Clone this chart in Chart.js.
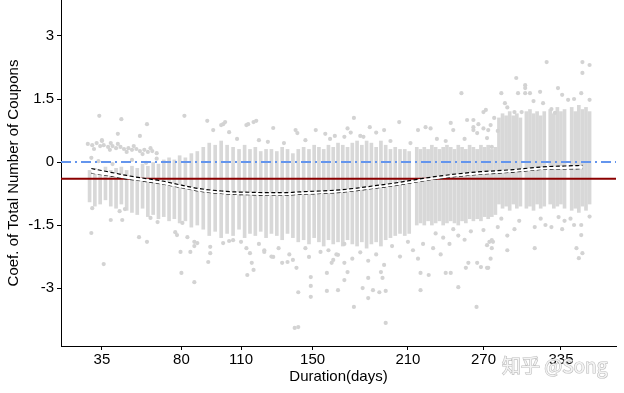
<!DOCTYPE html>
<html>
<head>
<meta charset="utf-8">
<script src="https://cdn.jsdelivr.net/npm/chart.js@4.4.1/dist/chart.umd.min.js"></script>
<style>
  html, body { margin: 0; padding: 0; background: #fff; }
  #wrap { width: 624px; height: 393px; }
</style>
</head>
<body>
<div id="wrap"><canvas id="coefChart" width="624" height="393"></canvas></div>
<script>
// Duration axis is discrete (only observed days get a slot), so ticks are not evenly spaced
const tickDays = [35, 80, 110, 150, 210, 270, 335];
const tickSlots = [0, 40, 70, 106, 154, 192, 231];
const yTicks = [-3, -1.5, 0, 1.5, 3];

const zeroLevel = 0;
const meanCoef = -0.4;

// dense part of each day column: [day, low, high]
const coreEarly = [
    [28, -0.95, -0.2], [31, -1.05, -0.15], [34, -1.0, -0.2], [37, -0.9, -0.12], [40, -1.05, -0.2],
    [43, -1.1, -0.15], [46, -1.0, -0.12], [49, -1.15, -0.2], [52, -1.2, -0.1], [55, -1.25, -0.15],
    [58, -1.1, -0.05], [61, -1.3, -0.1], [64, -1.25, 0.0], [67, -1.35, -0.05], [70, -1.3, 0.05],
    [73, -1.4, 0.1], [76, -1.35, 0.05], [79, -1.45, 0.15], [82, -1.4, 0.1], [85, -1.55, 0.2], [88, -1.5, 0.25]
];
const coreMid = [
    [91, -1.6, 0.35], [94, -1.75, 0.45], [97, -1.65, 0.4], [100, -1.8, 0.5], [103, -1.7, 0.4],
    [106, -1.75, 0.35], [109, -1.6, 0.3], [112, -1.8, 0.4], [115, -1.7, 0.3], [118, -1.75, 0.35],
    [121, -1.65, 0.25], [124, -1.8, 0.3], [127, -1.7, 0.3], [130, -1.75, 0.25], [133, -1.85, 0.35],
    [136, -1.7, 0.3], [139, -1.8, 0.2], [142, -1.9, 0.3], [145, -1.85, 0.35], [148, -1.95, 0.3],
    [151, -1.8, 0.4], [154, -1.9, 0.35], [157, -2.0, 0.3], [160, -1.85, 0.4], [163, -1.95, 0.35],
    [166, -1.9, 0.45], [169, -2.0, 0.4], [172, -1.85, 0.35], [175, -1.95, 0.45], [178, -2.0, 0.5],
    [181, -1.9, 0.4], [184, -2.05, 0.5], [187, -1.95, 0.45], [190, -1.9, 0.35], [193, -2.0, 0.5],
    [196, -1.85, 0.4], [199, -1.8, 0.3], [202, -1.75, 0.35], [205, -1.7, 0.3], [208, -1.75, 0.3], [211, -1.7, 0.25]
];
const coreLate = [
    [217, -1.5, 0.35], [220, -1.45, 0.3], [223, -1.5, 0.35], [226, -1.4, 0.3], [229, -1.5, 0.4],
    [232, -1.45, 0.35], [235, -1.4, 0.3], [238, -1.5, 0.35], [241, -1.45, 0.4], [244, -1.4, 0.35],
    [247, -1.45, 0.3], [250, -1.5, 0.4], [253, -1.4, 0.35], [256, -1.45, 0.3], [259, -1.35, 0.4],
    [262, -1.4, 0.35], [265, -1.35, 0.3], [268, -1.4, 0.4], [271, -1.3, 0.35], [274, -1.35, 0.4],
    [277, -1.3, 0.3], [280, -1.25, 0.35]
];
const coreRight = [
    [283, -1.0, 1.05], [286, -1.1, 1.15], [289, -1.05, 1.1], [292, -1.15, 1.2], [295, -1.0, 1.1],
    [298, -1.1, 1.15], [301, -1.05, 1.05], [306, -1.1, 1.2], [309, -1.05, 1.25], [312, -1.15, 1.15],
    [315, -1.0, 1.2], [318, -1.1, 1.1], [321, -1.05, 1.2], [326, -1.0, 1.25], [329, -1.1, 1.15],
    [332, -1.05, 1.3], [335, -1.0, 1.2], [338, -1.1, 1.25], [344, -1.15, 1.3], [347, -1.1, 1.2],
    [350, -1.2, 1.35], [353, -1.05, 1.25], [356, -1.15, 1.3], [359, -1.0, 1.2]
];

// single observations outside the dense cores: [day, coef]
const streakPts = [
    [27, 0.43], [29.5, 0.40], [32, 0.45], [34, 0.38], [36, 0.40], [38.5, 0.36], [41, 0.38], [43, 0.33],
    [45.5, 0.36], [47.5, 0.31], [50, 0.33], [52, 0.29], [54.5, 0.31], [56.5, 0.26], [59, 0.29], [61, 0.24],
    [63.5, 0.26], [66, 0.21], [30.5, 0.31], [39.5, 0.29], [49, 0.24], [58, 0.19], [35, 0.50], [44, 0.43],
    [53, 0.38], [62.5, 0.33], [29, 0.1], [33, 0.02], [41, -0.05], [52, 0.05], [60, -0.02], [66, 0.08]
];
const upperPts = [
    [33.5, 1.1], [46, 1.02], [60.5, 0.9], [81.5, 1.1], [93, 0.98], [101, 0.9], [102, 0.95], [114, 0.9],
    [118.5, 0.98], [44, 0.67], [56.5, 0.62], [35, 0.52], [40, 0.45], [100, 0.88], [96, 0.76], [104, 0.71],
    [113, 0.88], [117, 0.95], [128, 0.81], [140.5, 0.76], [141.5, 0.69], [152, 0.76], [158, 0.67], [164, 0.62],
    [170, 0.6], [120, 0.52], [134, 0.45], [176, 1.05], [172, 0.8], [174, 0.7], [182, 0.6], [186, 0.83],
    [190, 0.7], [195, 0.76], [204.5, 0.95], [218, 0.76], [224, 0.83], [228, 0.8], [252.5, 1.64], [257, 1.0],
    [262, 0.83], [266, 0.9], [270, 0.8], [262, 0.76], [265, 0.69], [262, 1.0], [246, 0.76], [244, 0.93],
    [274, 0.76], [270, 1.19], [108, 0.55], [125, 0.48], [146, 0.52], [161, 0.55], [180, 0.62], [199, 0.5],
    [212, 0.45], [233, 0.55], [240, 0.5], [255, 0.55]
];
const rightUpperPts = [
    [323, 2.38], [353, 2.38], [359, 2.31], [353, 2.12], [297.5, 2.0], [305, 1.83], [305, 1.76], [299, 1.64],
    [305, 1.64], [309, 1.64], [285, 1.64], [317.5, 1.67], [332.5, 1.76], [336, 1.6], [341, 1.48], [352, 1.64],
    [359, 1.48], [320, 1.4], [327, 1.26], [330, 1.17], [272, 1.24], [279, 1.05], [276, 0.88], [282, 0.74],
    [273, 0.57], [277, 0.36], [296, 1.19], [302, 1.19], [288, 1.4], [312, 1.45], [346, 1.5], [290, 1.3]
];
const lowerPts = [
    [29, -1.69], [29.5, -1.1], [36, -2.43], [56, -1.79], [60.5, -1.9], [40, -1.38], [46.5, -1.38], [45, -1.17],
    [48, -1.12], [62.5, -1.33], [66.5, -1.43], [76.5, -1.67], [77.5, -1.74], [80.5, -1.45], [79.5, -2.14],
    [84.5, -2.14], [80, -2.64], [86.5, -2.86], [88, -1.93], [83, -1.79], [86.5, -1.9], [86.5, -2.0],
    [93.5, -2.38], [94.5, -2.17], [94.5, -2.02], [101, -1.93], [104, -1.88], [106, -1.86],
    [113.5, -2.69], [117, -2.57], [116, -2.4], [113, -2.05], [115, -2.17], [123, -2.14], [128, -2.26],
    [133, -2.4], [136, -2.38], [139, -2.33], [141, -2.52], [142, -3.1], [140, -3.95], [142, -3.93],
    [149, -2.74], [149, -3.21], [149, -2.95], [159, -2.64], [159, -3.07], [166, -3.05], [163, -2.33],
    [166, -2.21], [170, -2.81], [176, -3.45], [181.5, -3.0], [185, -3.24], [188, -3.05], [192, -3.1],
    [196, -3.07], [196, -3.83], [185, -2.76], [193, -2.62], [194, -2.76], [172, -2.62], [170, -2.4],
    [220, -2.64], [220, -3.05], [226.5, -2.69], [240, -2.64], [244, -2.64], [250, -2.98], [256, -2.52],
    [258, -2.4], [264.5, -3.45], [265, -2.4], [268, -2.5], [274, -2.52], [290, -2.1], [313, -2.05],
    [160, -2.1], [165, -2.2], [170, -1.95], [175, -2.3], [180, -2.15], [185, -2.35], [190, -2.2],
    [195, -2.45], [200, -2.0], [205, -2.25], [210, -1.9], [214, -2.1], [218, -2.3], [222, -1.95],
    [230, -2.05], [236, -2.2], [243, -1.95], [123, -2.1], [127, -2.25], [131, -2.05], [137, -2.2],
    [148, -2.26], [155, -2.14], [162, -2.4], [146, -2.05], [120, -1.95], [110, -1.9], [250, -1.75],
    [255, -1.85], [260, -1.65], [246, -1.6], [232, -1.7], [238, -1.8]
];
const rightLowerPts = [
    [270, -1.62], [273, -2.52], [275, -1.9], [277, -2.05], [276, -2.3], [273, -1.98], [277, -1.86],
    [278, -1.9], [282, -1.55], [290, -1.75], [296, -1.6], [313, -1.55], [333, -1.31], [338, -1.4],
    [343, -1.35], [346, -1.5], [352, -1.5], [348, -2.05], [350, -2.29], [352, -1.74], [353, -2.17],
    [322, -1.5], [327, -1.55], [336, -1.6], [300, -1.4], [318, -1.35], [285, -1.35], [359, -1.3]
];

// smoothed trend with its band
const curveDays  = [29, 40, 49, 60, 68, 80, 90, 100, 106, 115, 125, 135, 143, 155, 168, 178, 188, 200, 210, 222, 236, 250, 268, 280, 295, 310, 323, 338, 353];
const curveUpper = [-0.155, -0.245, -0.32, -0.395, -0.445, -0.55, -0.64, -0.69, -0.71, -0.72, -0.73, -0.73, -0.71, -0.69, -0.66, -0.62, -0.57, -0.51, -0.45, -0.39, -0.33, -0.28, -0.23, -0.21, -0.18, -0.14, -0.11, -0.095, -0.08];
const curveLower = [-0.265, -0.335, -0.40, -0.465, -0.515, -0.61, -0.70, -0.75, -0.77, -0.78, -0.79, -0.79, -0.77, -0.75, -0.72, -0.68, -0.63, -0.57, -0.51, -0.45, -0.39, -0.34, -0.29, -0.27, -0.24, -0.20, -0.17, -0.165, -0.16];

const xMin = -20.6, xMax = 258.7;
const yMin = -4.38, yMax = 3.857;

function dayToSlot(d) {
    let i = 0;
    while (i < tickDays.length - 2 && d > tickDays[i + 1]) i++;
    const slope = (tickSlots[i + 1] - tickSlots[i]) / (tickDays[i + 1] - tickDays[i]);
    return tickSlots[i] + (d - tickDays[i]) * slope;
}
const toPts = arr => arr.map(p => ({ x: dayToSlot(p[0]), y: p[1] }));
const toCore = arr => arr.map(c => ({ x: dayToSlot(c[0]), y: [c[1], c[2]] }));

Chart.defaults.font.family = "'Liberation Sans', Arial, sans-serif";
Chart.defaults.font.size = 15;
Chart.defaults.color = '#000';

const watermark = {
    id: 'watermark',
    afterDraw(chart) {
        const c = chart.ctx;
        c.save();
        c.font = "19px 'Noto Sans CJK SC'";
        c.textBaseline = 'middle';
        c.lineWidth = 1.2;
        c.strokeStyle = '#bcbcbc';
        c.fillStyle = '#f4f4f4';
        c.strokeText('知乎 @Song', 502, 366);
        c.fillText('知乎 @Song', 502, 366);
        c.restore();
    }
};

const grayPt = '#d3d3d3';
const allPts = [].concat(streakPts, upperPts, rightUpperPts, lowerPts, rightLowerPts);
const allCore = [].concat(coreEarly, coreMid, coreLate, coreRight);

new Chart(document.getElementById('coefChart').getContext('2d'), {
    type: 'scatter',
    data: {
        datasets: [
            {
                type: 'line', label: 'smooth upper',
                data: curveDays.map((d, i) => ({ x: dayToSlot(d), y: curveUpper[i] })),
                borderColor: '#000', borderWidth: 1.2, borderDash: [4, 2.5],
                pointRadius: 0, fill: '+1', backgroundColor: '#ffffff',
                cubicInterpolationMode: 'monotone', order: 0
            },
            {
                type: 'line', label: 'smooth lower',
                data: curveDays.map((d, i) => ({ x: dayToSlot(d), y: curveLower[i] })),
                borderColor: '#000', borderWidth: 1.2, borderDash: [4, 2.5],
                pointRadius: 0, fill: false,
                cubicInterpolationMode: 'monotone', order: 0
            },
            {
                type: 'line', label: 'zero',
                data: [{ x: xMin, y: zeroLevel }, { x: xMax, y: zeroLevel }],
                borderColor: '#6495ED', borderWidth: 2, borderDash: [10, 4, 2, 4],
                pointRadius: 0, fill: false, order: 1
            },
            {
                type: 'line', label: 'mean',
                data: [{ x: xMin, y: meanCoef }, { x: xMax, y: meanCoef }],
                borderColor: '#8B0000', borderWidth: 2,
                pointRadius: 0, fill: false, order: 2
            },
            {
                type: 'scatter', label: 'coef',
                data: toPts(allPts),
                backgroundColor: grayPt, borderWidth: 0, pointRadius: 2.1, order: 3
            },
            {
                type: 'bar', label: 'coef dense',
                data: toCore(allCore),
                backgroundColor: '#d8d8d8', borderWidth: 0,
                barThickness: 3, grouped: false, order: 4
            }
        ]
    },
    options: {
        responsive: false,
        animation: false,
        layout: { autoPadding: false, padding: { left: 0, right: 8, top: 0, bottom: 0 } },
        plugins: { legend: { display: false }, tooltip: { enabled: false } },
        scales: {
            x: {
                type: 'linear', min: xMin, max: xMax, offset: false,
                afterBuildTicks: s => { s.ticks = tickSlots.map(v => ({ value: v })); },
                afterFit: s => { s.height = 47; s.paddingLeft = 0; s.paddingRight = 0; },
                ticks: { callback: (v, i) => String(tickDays[i]), padding: 1, maxRotation: 0, autoSkip: false },
                grid: { offset: false, drawOnChartArea: false, drawTicks: true, tickLength: 4, color: '#000' },
                border: { color: '#000', width: 1 },
                title: { display: true, text: 'Duration(days)', padding: { top: 0, bottom: 7 } }
            },
            y: {
                min: yMin, max: yMax,
                afterBuildTicks: s => { s.ticks = yTicks.map(v => ({ value: v })); },
                afterFit: s => { s.width = 61; s.paddingTop = 0; s.paddingBottom = 0; },
                ticks: { callback: v => String(v), padding: 3 },
                grid: { drawOnChartArea: false, drawTicks: true, tickLength: 4, color: '#000' },
                border: { color: '#000', width: 1 },
                title: { display: true, text: 'Coef. of Total Number of Coupons', padding: { top: 5, bottom: 0 } }
            }
        }
    },
    plugins: [watermark]
});
</script>
</body>
</html>
